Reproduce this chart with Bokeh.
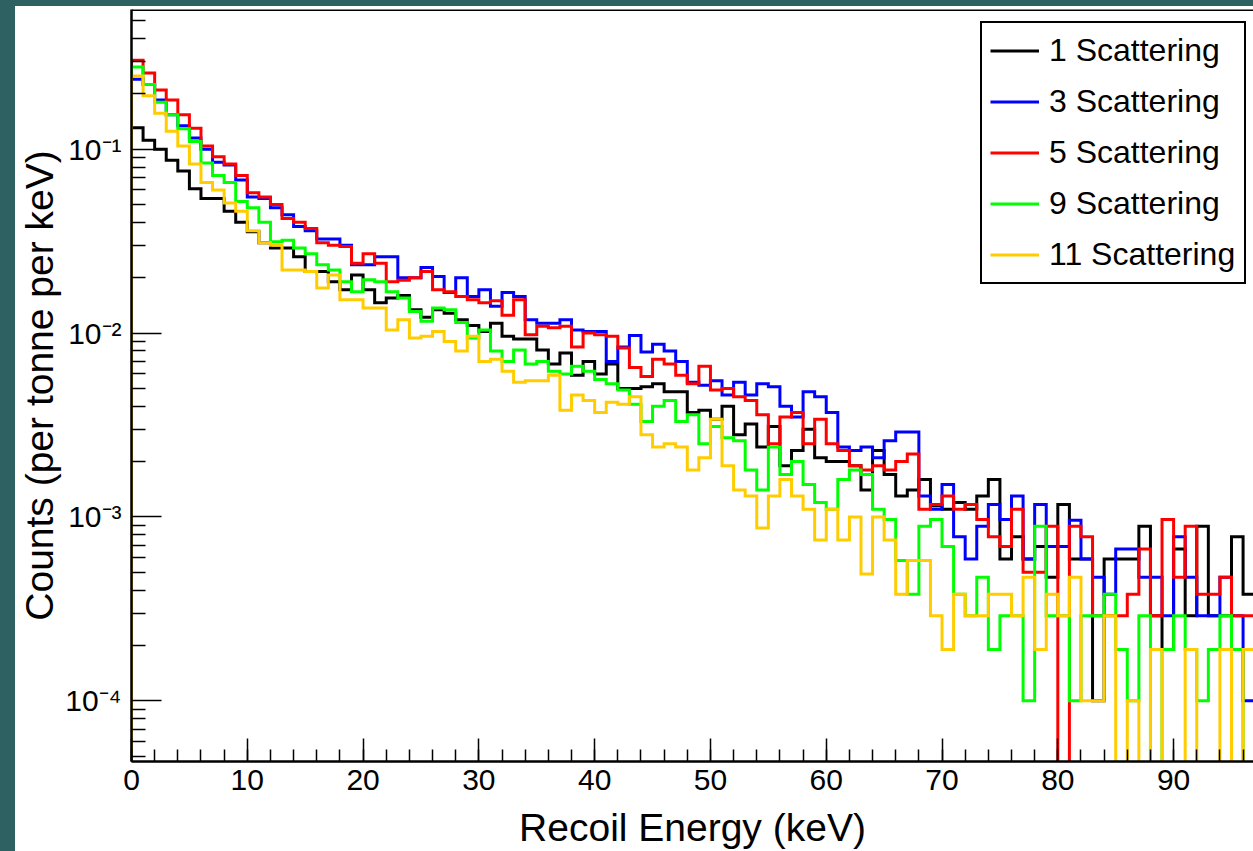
import numpy as np
from bokeh.plotting import figure
from bokeh.models import (Range1d, FixedTicker, SingleIntervalTicker, Legend,
                          LegendItem, Span, Spacer)
from bokeh.layouts import column, row
from bokeh.embed import file_html
from bokeh.resources import INLINE

# ---------------- data (counts per tonne per keV, 1 keV bins from 0 keV) -------------
bin_width_kev = 1.0

scatter_1 = [0.131, 0.112, 0.10, 0.087, 0.076, 0.061, 0.054, 0.054, 0.046, 0.040,
             0.0356, 0.031, 0.029, 0.029, 0.026, 0.0216, 0.0216, 0.019, 0.0172, 0.0207,
             0.0172, 0.0146, 0.0155, 0.016, 0.0134, 0.0122, 0.0134, 0.0128, 0.0118, 0.011,
             0.0102, 0.0113, 0.0096, 0.0093, 0.0093, 0.0081, 0.0068, 0.0078, 0.0059, 0.007,
             0.006, 0.0068, 0.005, 0.005, 0.0051, 0.0053, 0.0048, 0.0048, 0.0037, 0.0038,
             0.0034, 0.004, 0.0028, 0.0032, 0.0024, 0.0031, 0.0019, 0.0023, 0.003, 0.0021,
             0.002, 0.002, 0.0019, 0.0014, 0.0023, 0.0017, 0.0013, 0.0014, 0.0016, 0.00115,
             0.0011, 0.0012, 0.0011, 0.0013, 0.0016, 0.00059, 0.00078, 0.00059, 0.00069, 0.00047,
             0.00117, 0.00059, 0.00059, 0.0001, 0.00059, 0.00059, 0.00059, 0.00089, 0.00029, 0.00019,
             0.00067, 0.00029, 0.00089, 0.00029, 0.00029, 0.00078, 0.00038]

scatter_3 = [0.24, 0.225, 0.185, 0.154, 0.134, 0.115, 0.10, 0.085, 0.082, 0.068,
             0.055, 0.054, 0.048, 0.044, 0.038, 0.036, 0.0325, 0.0325, 0.030, 0.0235,
             0.0235, 0.026, 0.026, 0.020, 0.020, 0.0227, 0.0203, 0.0166, 0.020, 0.0158,
             0.0172, 0.014, 0.0166, 0.0158, 0.0118, 0.0113, 0.0113, 0.0118, 0.0104, 0.0102,
             0.0102, 0.007, 0.0084, 0.0097, 0.0079, 0.0087, 0.008, 0.007, 0.0054, 0.0052,
             0.0055, 0.0046, 0.0054, 0.0046, 0.0053, 0.0051, 0.004, 0.0035, 0.0048, 0.0045,
             0.0037, 0.0024, 0.0023, 0.0024, 0.0021, 0.0026, 0.0029, 0.0029, 0.0013, 0.0011,
             0.0015, 0.00078, 0.00059, 0.00089, 0.00117, 0.00097, 0.0013, 0.00059, 0.00117, 0.00069,
             0.00069, 0.00096, 0.00059, 0.00047, 0.00038, 0.00067, 0.00067, 0.00047, 0.00047, 0.00029,
             0.00078, 0.00047, 0.00029, 0.00029, 0.00047, 0.00029, 0.0001]

scatter_5 = [0.305, 0.26, 0.21, 0.185, 0.154, 0.13, 0.104, 0.091, 0.083, 0.072,
             0.058, 0.055, 0.050, 0.042, 0.040, 0.037, 0.031, 0.030, 0.0296, 0.024,
             0.027, 0.024, 0.019, 0.0194, 0.020, 0.0216, 0.0172, 0.0168, 0.0158, 0.0152,
             0.0146, 0.015, 0.0125, 0.0152, 0.0098, 0.0109, 0.0107, 0.0109, 0.0084, 0.010,
             0.0098, 0.0096, 0.0083, 0.0065, 0.0058, 0.0072, 0.0068, 0.0059, 0.0053, 0.0066,
             0.0049, 0.005, 0.0045, 0.0043, 0.0036, 0.0025, 0.0035, 0.0037, 0.0025, 0.0034,
             0.0025, 0.0023, 0.0019, 0.0018, 0.0019, 0.0018, 0.002, 0.0022, 0.0011, 0.00117,
             0.0013, 0.0011, 0.00117, 0.00097, 0.00078, 0.00069, 0.0011, 0.0005, 0.0005, 0.00089,
             0.0, 0.00089, 0.00078, 0.00029, 0.00029, 0.00029, 0.00038, 0.00067, 0.00029, 0.00097,
             0.00047, 0.00089, 0.00038, 0.00038, 0.00047, 0.00029, 0.00029]

scatter_9 = [0.28, 0.225, 0.18, 0.154, 0.129, 0.11, 0.084, 0.072, 0.066, 0.052,
             0.048, 0.040, 0.0314, 0.032, 0.029, 0.027, 0.0235, 0.022, 0.019, 0.0168,
             0.0195, 0.019, 0.0168, 0.0155, 0.0131, 0.0116, 0.0137, 0.0134, 0.0114, 0.0094,
             0.0104, 0.008, 0.007, 0.0081, 0.0068, 0.007, 0.0062, 0.006, 0.0066, 0.0062,
             0.0056, 0.0053, 0.0049, 0.0041, 0.0033, 0.004, 0.0043, 0.0033, 0.0036, 0.0025,
             0.0031, 0.0027, 0.0026, 0.0018, 0.0014, 0.0024, 0.0017, 0.002, 0.0015, 0.0012,
             0.0011, 0.0016, 0.0018, 0.0017, 0.0011, 0.00097, 0.00058, 0.00038, 0.00089, 0.00097,
             0.00069, 0.00038, 0.00029, 0.00047, 0.00019, 0.00029, 0.00029, 0.0001, 0.00089, 0.00029,
             0.00029, 0.0001, 0.00029, 0.00029, 0.00038, 0.00019, 0.0001, 0.00029, 0.0, 0.00019,
             0.00029, 0.00019, 0.0001, 0.00019, 0.00029, 0.00019, 0.0]

scatter_11 = [0.25, 0.195, 0.157, 0.125, 0.104, 0.083, 0.066, 0.06, 0.051, 0.046,
              0.036, 0.031, 0.030, 0.022, 0.022, 0.0216, 0.0176, 0.0207, 0.0152, 0.0152,
              0.0137, 0.0137, 0.0104, 0.0118, 0.0094, 0.0096, 0.0102, 0.009, 0.008, 0.0096,
              0.007, 0.0072, 0.0062, 0.0054, 0.0055, 0.0055, 0.0059, 0.0038, 0.0046, 0.0043,
              0.0037, 0.0042, 0.0041, 0.0045, 0.0028, 0.0024, 0.0025, 0.0024, 0.0018, 0.0021,
              0.0034, 0.0019, 0.0014, 0.0013, 0.00087, 0.0013, 0.0016, 0.0013, 0.0011, 0.00075,
              0.0011, 0.00075, 0.001, 0.00049, 0.001, 0.00075, 0.00038, 0.00058, 0.00058, 0.00029,
              0.00019, 0.00038, 0.00029, 0.00029, 0.00038, 0.00038, 0.00029, 0.00047, 0.00019, 0.00038,
              0.00029, 0.00047, 0.0001, 0.0001, 0.00029, 0.0, 0.0001, 0.0, 0.00019, 0.0,
              0.0, 0.00019, 0.0, 0.0, 0.00019, 0.0, 0.00019]

series_labels = ["1 Scattering", "3 Scattering", "5 Scattering", "9 Scattering", "11 Scattering"]
series_values = [scatter_1, scatter_3, scatter_5, scatter_9, scatter_11]
series_colors = ["#000000", "#0000ff", "#ff0000", "#00ff00", "#ffcc00"]

y_tick_labels = {1e-4: "10\u207b\u2074", 1e-3: "10\u207b\u00b3",
                 1e-2: "10\u207b\u00b2", 1e-1: "10\u207b\u00b9"}

x_min, x_max = 0.0, 96.9
y_min, y_max = 4.68e-5, 0.575

FONT = "Liberation Sans"
TEAL = "#2e6262"

# ---------------- figure -------------
p = figure(width=1238, height=845, y_axis_type="log",
           x_range=Range1d(x_min, x_max), y_range=Range1d(y_min, y_max),
           output_backend="svg", toolbar_location=None,
           min_border_left=115, min_border_right=0, min_border_top=3,
           min_border_bottom=89)
p.background_fill_color = "white"
p.border_fill_color = "white"
p.outline_line_color = None
p.grid.visible = False

# x axis
xa = p.xaxis[0]
xa.ticker = SingleIntervalTicker(interval=10, num_minor_ticks=5)
xa.axis_label = "Recoil Energy (keV)"
xa.axis_label_text_font = FONT
xa.axis_label_text_font_size = "39px"
xa.axis_label_text_font_style = "normal"
xa.axis_label_text_color = "black"
xa.axis_label_standoff = 13
xa.major_label_text_font = FONT
xa.major_label_text_font_size = "30px"
xa.major_label_text_color = "black"
xa.major_label_standoff = 8
xa.axis_line_width = 2.5
xa.axis_line_color = "black"
xa.major_tick_in = 23
xa.major_tick_out = 0
xa.minor_tick_in = 12
xa.minor_tick_out = 0
xa.major_tick_line_width = 1.5
xa.minor_tick_line_width = 1.5
xa.major_tick_line_color = "black"
xa.minor_tick_line_color = "black"

# y axis
ya = p.yaxis[0]
ya.ticker = FixedTicker(ticks=list(y_tick_labels.keys()),
                        minor_ticks=[m * 10.0 ** e for e in range(-5, 0) for m in range(2, 10)])
ya.major_label_overrides = y_tick_labels
ya.axis_label = "Counts (per tonne per keV)"
ya.axis_label_text_font = FONT
ya.axis_label_text_font_size = "39px"
ya.axis_label_text_font_style = "normal"
ya.axis_label_text_color = "black"
ya.axis_label_standoff = 1
ya.major_label_text_font = FONT
ya.major_label_text_font_size = "30px"
ya.major_label_text_color = "black"
ya.major_label_standoff = 10
ya.axis_line_width = 2.5
ya.axis_line_color = "black"
ya.major_tick_in = 30
ya.major_tick_out = 0
ya.minor_tick_in = 14
ya.minor_tick_out = 0
ya.major_tick_line_width = 1.5
ya.minor_tick_line_width = 1.5
ya.major_tick_line_color = "black"
ya.minor_tick_line_color = "black"

# top frame line
p.add_layout(Span(location=y_max, dimension="width", line_color="black", line_width=3))

# ---------------- histograms -------------
renderers = []
for vals, col in zip(series_values, series_colors):
    v = np.asarray(vals, dtype=float)
    v = np.where(v > 0, v, 1e-7)          # empty bins fall below the axis
    edges = np.arange(len(v) + 1) * bin_width_kev
    px = [edges[0]]
    py = [1e-7]
    for i in range(len(v)):
        px += [edges[i], edges[i + 1]]
        py += [v[i], v[i]]
    r = p.line(px, py, line_color=col, line_width=3, line_join="miter")
    renderers.append(r)

legend = Legend(items=[LegendItem(label=lab, renderers=[r])
                       for lab, r in zip(series_labels, renderers)],
                location=(849, 477))
legend.label_text_font = FONT
legend.label_text_font_size = "32px"
legend.label_text_color = "black"
legend.glyph_width = 49
legend.glyph_height = 39
legend.label_height = 39
legend.label_width = 187
legend.spacing = 12
legend.padding = 8
legend.label_standoff = 10
legend.margin = 0
legend.border_line_color = "black"
legend.border_line_alpha = 1.0
legend.border_line_width = 2
legend.background_fill_color = "white"
legend.background_fill_alpha = 1.0
p.add_layout(legend)

top_strip = Spacer(width=1253, height=6, styles={"background-color": TEAL})
left_strip = Spacer(width=15, height=845, styles={"background-color": TEAL})
layout = column(top_strip, row(left_strip, p))

open("out.html", "w").write(file_html(layout, INLINE))
